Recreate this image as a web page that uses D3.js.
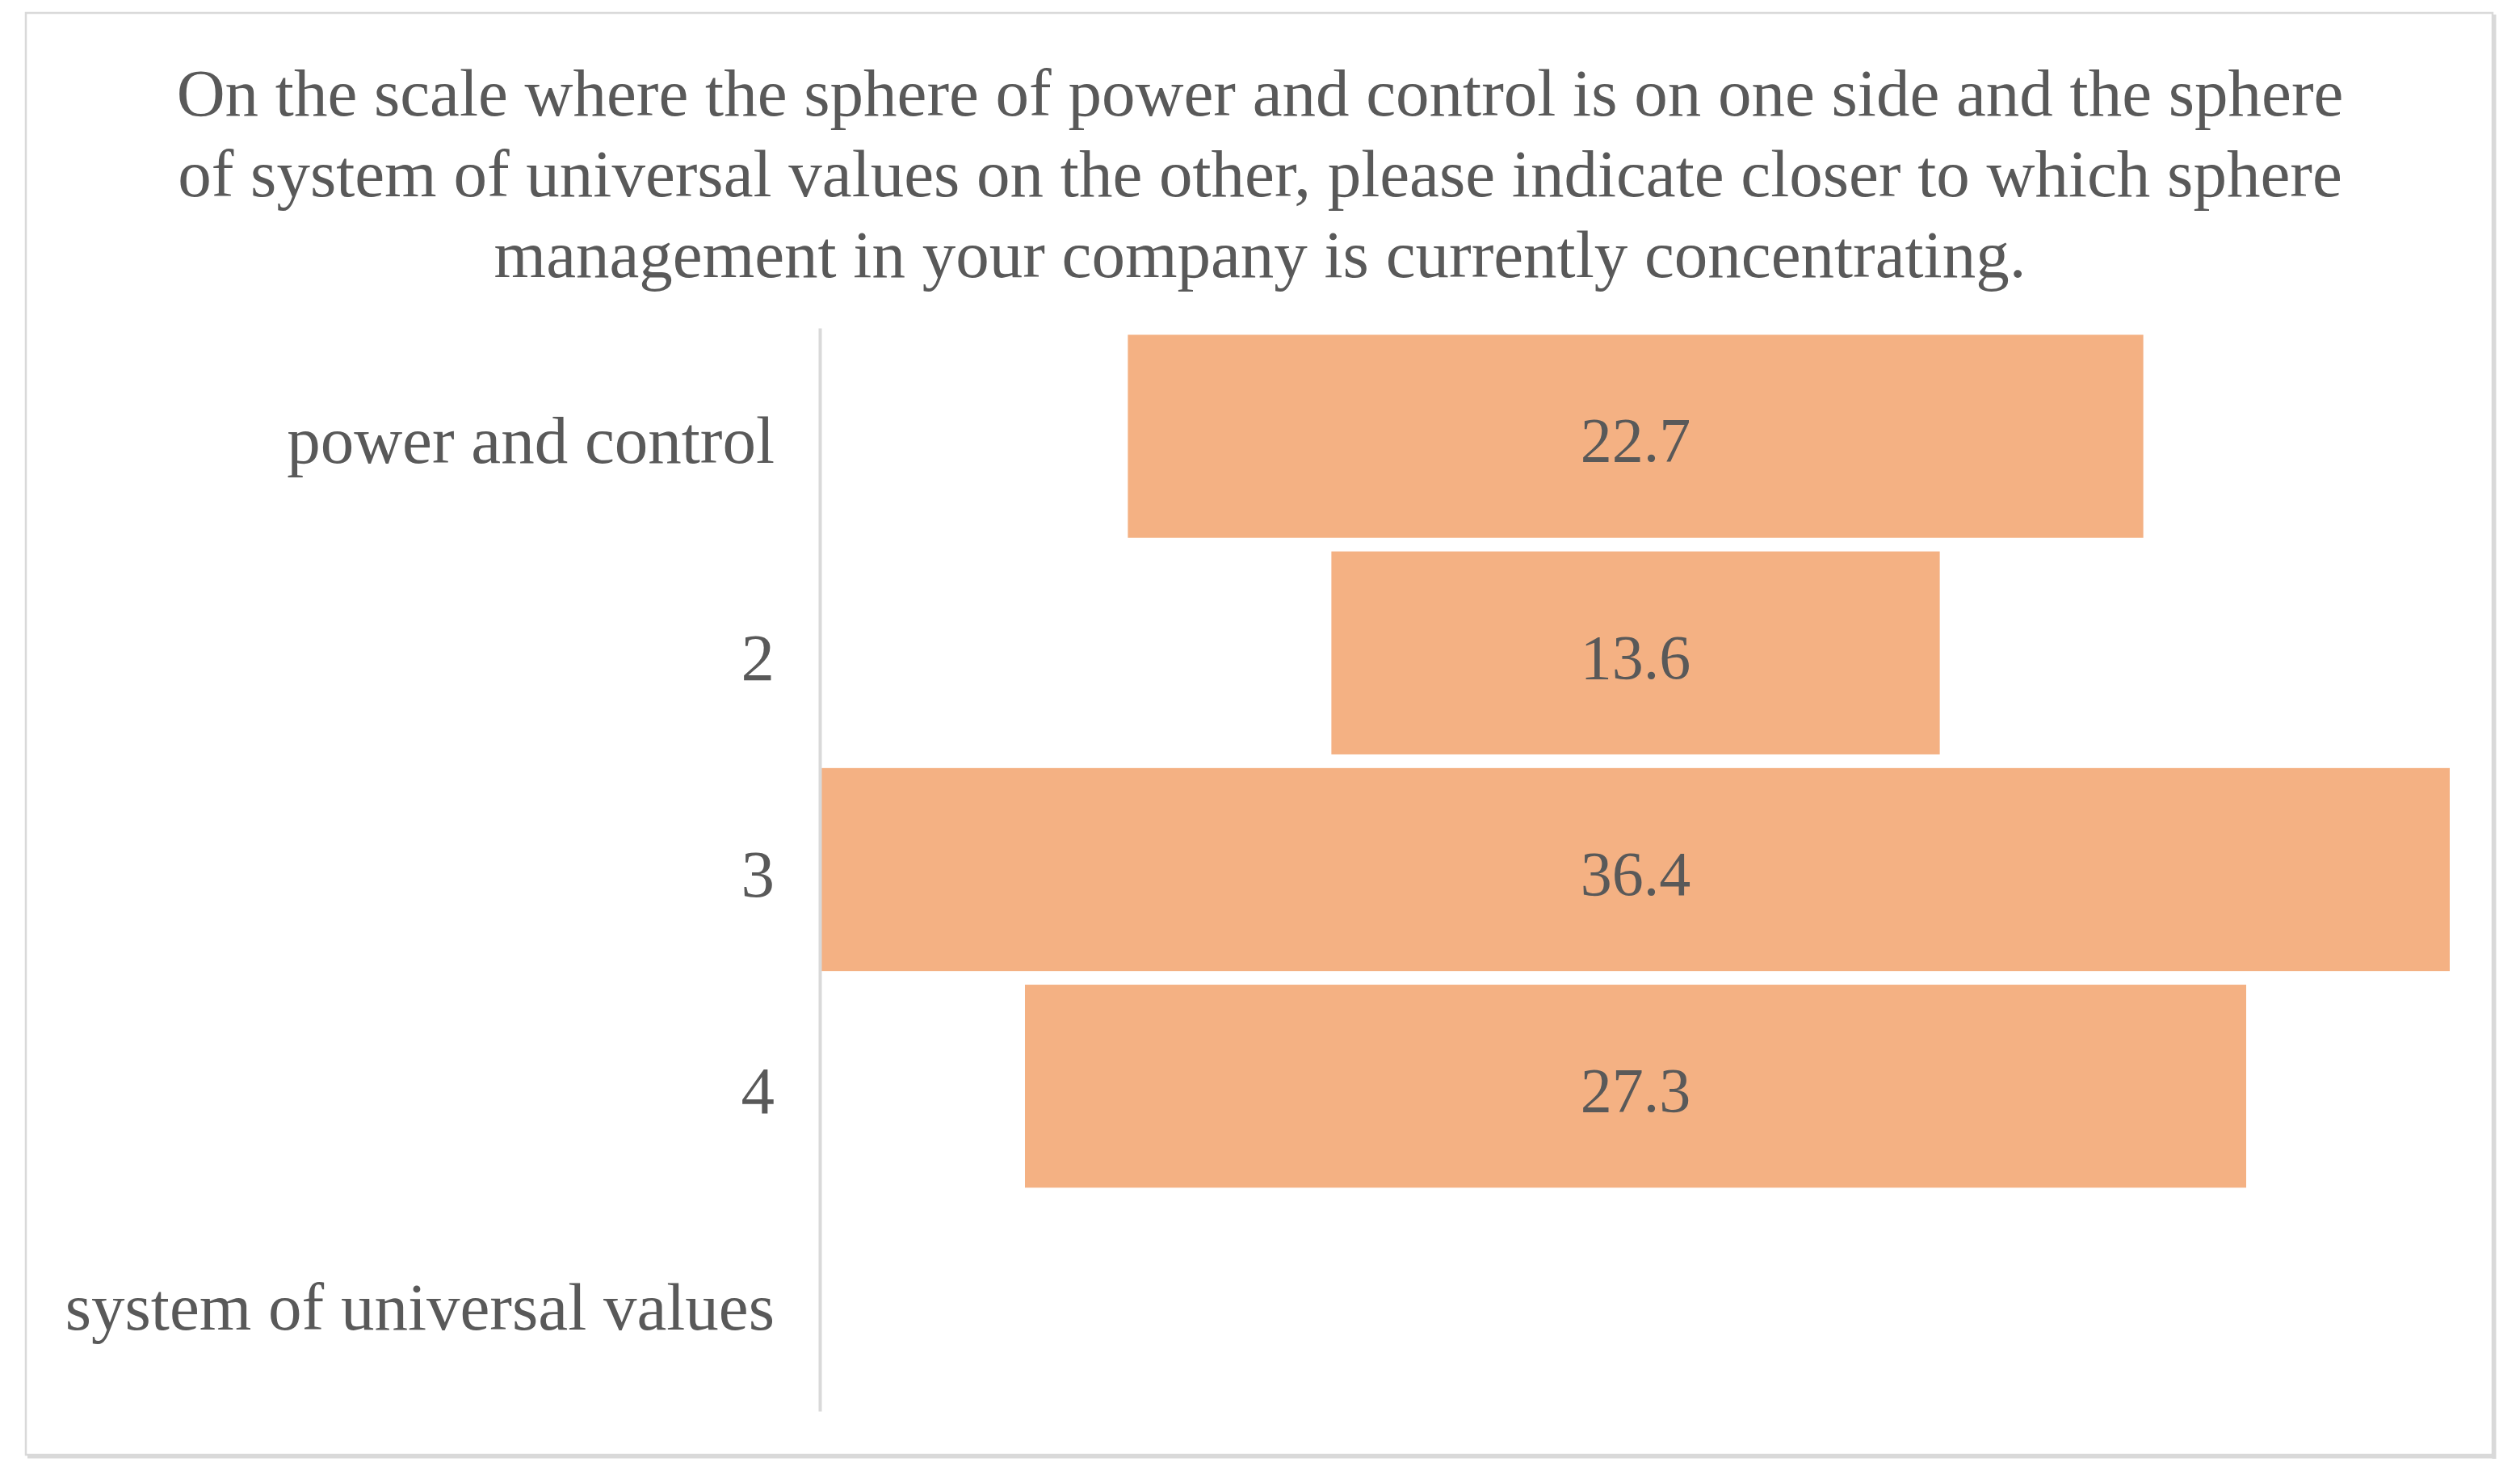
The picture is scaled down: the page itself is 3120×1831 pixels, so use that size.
<!DOCTYPE html>
<html>
<head>
<meta charset="utf-8">
<script src="https://cdn.jsdelivr.net/npm/d3@7"></script>
<style>
  html, body { margin: 0; padding: 0; background: #fff; }
  svg text { font-family: "Liberation Serif", "Times New Roman", serif; fill: #595959; }
</style>
</head>
<body>
<div id="chart"></div>
<script>
// chart data
const titleLines = [
    "On the scale where the sphere of power and control is on one side and the sphere",
    "of system of universal values on the other, please indicate closer to which sphere",
    "management in your company is currently concentrating."
];
const categories = ["power and control", "2", "3", "4", "system of universal values"];
const values = [22.7, 13.6, 36.4, 27.3, null];

function drawChart() {
    const W = 3120, H = 1831;

    const svg = d3.select('#chart')
        .append('svg')
        .attr('width', W)
        .attr('height', H);

    // outer frame with a bit of shadow right/bottom
    svg.append('rect')
        .attr('x', 32).attr('y', 16)
        .attr('width', 3054).attr('height', 1785)
        .attr('fill', '#fff')
        .attr('stroke', '#d9d9d9')
        .attr('stroke-width', 2.5);
    svg.append('line')
        .attr('x1', 3088).attr('x2', 3088).attr('y1', 18).attr('y2', 1806)
        .attr('stroke', '#d9d9d9').attr('stroke-width', 5);
    svg.append('line')
        .attr('x1', 34).attr('x2', 3090).attr('y1', 1803).attr('y2', 1803)
        .attr('stroke', '#d9d9d9').attr('stroke-width', 5);

    // title
    svg.append('g')
        .selectAll('text')
        .data(titleLines)
        .enter()
        .append('text')
        .attr('x', 1560)
        .attr('y', (d, i) => 143 + i * 100)
        .attr('text-anchor', 'middle')
        .attr('font-size', 83)
        .text(d => d);

    // scales
    const y = d3.scaleBand()
        .domain(categories)
        .range([406, 1747])
        .paddingInner(0.063)
        .paddingOuter(0.0315);

    const half = d3.max(values) / 2;
    const x = d3.scaleLinear()
        .domain([-half, half])
        .range([1017, 3033]);

    // funnel bars, centred on zero
    const rows = categories.map((c, i) => ({ cat: c, v: values[i] }))
        .filter(d => d.v != null);

    svg.append('g')
        .selectAll('rect')
        .data(rows)
        .enter()
        .append('rect')
        .attr('x', d => x(-d.v / 2))
        .attr('y', d => y(d.cat))
        .attr('width', d => x(d.v / 2) - x(-d.v / 2))
        .attr('height', y.bandwidth())
        .attr('fill', '#f4b183');

    // value labels
    svg.append('g')
        .selectAll('text')
        .data(rows)
        .enter()
        .append('text')
        .attr('x', x(0))
        .attr('y', d => y(d.cat) + y.bandwidth() / 2 + 4)
        .attr('dy', '0.35em')
        .attr('text-anchor', 'middle')
        .attr('font-size', 78)
        .text(d => d.v.toFixed(1));

    // category axis
    const axis = svg.append('g')
        .attr('transform', 'translate(1015,0)')
        .call(d3.axisLeft(y).tickSize(0).tickSizeOuter(0).tickPadding(56));
    axis.select('.domain')
        .attr('stroke', '#d9d9d9')
        .attr('stroke-width', 4);
    axis.selectAll('.tick text')
        .attr('font-size', 83)
        .attr('dy', '0.4em')
        .attr('font-family', '"Liberation Serif", serif')
        .attr('fill', '#595959');
}

document.addEventListener('DOMContentLoaded', drawChart);
</script>
</body>
</html>
